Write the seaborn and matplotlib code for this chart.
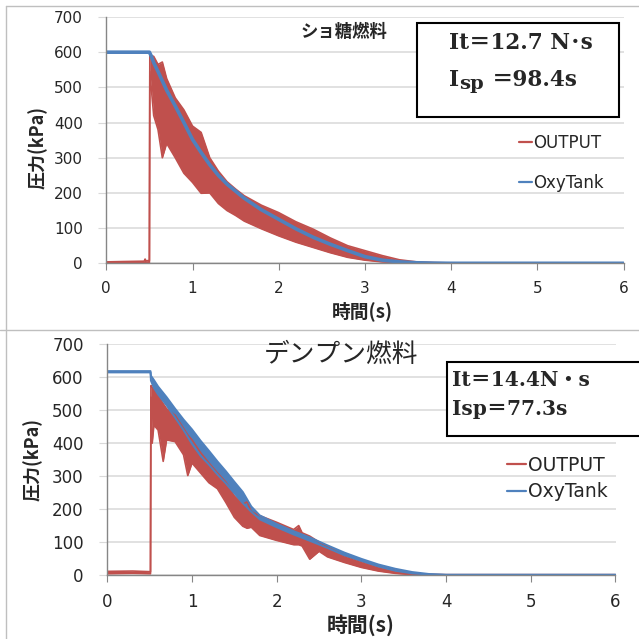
import numpy as np
import pandas as pd
import matplotlib.pyplot as plt
import matplotlib.patches as mpatches
from matplotlib.lines import Line2D
import seaborn as sns

# ---- top panel (sucrose fuel) ----
top_tank_t = [0.0, 0.50, 0.52, 0.55, 0.6, 0.7, 0.8, 0.9, 1.0, 1.1, 1.2, 1.3, 1.4, 1.5,
              1.6, 1.8, 2.0, 2.2, 2.4, 2.6, 2.8, 3.0, 3.2, 3.4, 3.6, 3.8, 4.0, 6.0]
top_tank_p = [600, 600, 590, 570, 545, 492, 447, 400, 352, 315, 280, 250, 225, 205,
              185, 152, 125, 98, 74, 54, 36, 19, 9, 4, 1.5, 0.5, 0, 0]

top_out_t = [0.0, 0.2, 0.44, 0.45, 0.46, 0.50, 0.505, 0.55, 0.6, 0.65, 0.7, 0.8, 0.9, 1.0,
             1.1, 1.2, 1.3, 1.4, 1.5, 1.6, 1.8, 2.0, 2.2, 2.4, 2.6, 2.8, 3.0, 3.2, 3.4,
             3.6, 3.8, 4.0, 6.0]
top_out_hi = [4, 5, 6, 12, 7, 8, 592, 588, 565, 572, 525, 470, 436, 390,
              372, 300, 262, 232, 211, 192, 165, 144, 118, 97, 72, 50, 36, 22, 10,
              4, 2, 1, 1]
top_out_lo = [1, 1, 2, 2, 2, 2, 545, 420, 380, 300, 341, 300, 256, 230,
              199, 200, 170, 150, 136, 120, 98, 78, 60, 45, 30, 17, 9, 4, 2,
              0, 0, 0, 0]

# ---- bottom panel (starch fuel) ----
bot_tank_t = [0.0, 0.51, 0.515, 0.55, 0.6, 0.7, 0.8, 0.9, 1.0, 1.1, 1.2, 1.3, 1.4, 1.5,
              1.6, 1.7, 1.8, 2.0, 2.2, 2.4, 2.6, 2.8, 3.0, 3.2, 3.4, 3.6, 3.8, 4.0, 6.0]
bot_tank_hi = [619, 619, 605, 592, 572, 540, 505, 472, 442, 408, 377, 345, 315, 283,
               252, 208, 181, 155, 133, 113, 90, 68, 49, 32, 19, 9, 3, 1, 1]
bot_tank_lo = [615, 615, 590, 568, 548, 515, 478, 440, 398, 362, 335, 305, 278, 248,
               218, 192, 169, 145, 123, 103, 82, 60, 43, 26, 13, 5, 1, 0, 0]

bot_out_t = [0.0, 0.3, 0.51, 0.515, 0.53, 0.55, 0.6, 0.66, 0.7, 0.8, 0.9, 0.95, 1.0,
             1.1, 1.2, 1.3, 1.4, 1.5, 1.6, 1.65, 1.7, 1.8, 2.0, 2.2, 2.26, 2.3, 2.39,
             2.5, 2.6, 2.8, 3.0, 3.2, 3.4, 3.6, 3.8, 4.0, 6.0]
bot_out_hi = [11, 12, 10, 575, 570, 565, 545, 520, 505, 485, 445, 425, 410,
              372, 340, 310, 282, 240, 215, 222, 192, 180, 160, 138, 150, 128, 118,
              100, 85, 58, 41, 25, 13, 5, 2, 1, 1]
bot_out_lo = [4, 5, 4, 540, 400, 455, 440, 345, 410, 405, 365, 302, 340,
              310, 280, 262, 220, 175, 148, 142, 145, 120, 105, 92, 92, 88, 48,
              72, 55, 38, 23, 12, 5, 1, 0, 0, 0]

x_ticks = [0, 1, 2, 3, 4, 5, 6]
y_ticks = [0, 100, 200, 300, 400, 500, 600, 700]

sns.set_style('white')
plt.rcParams['font.family'] = ['DejaVu Sans', 'Noto Sans CJK JP']

RED = '#C0504D'
BLUE = '#4F81BD'
GRID = '#D9D9D9'
AXIS = '#868686'
CJK = ['Noto Sans CJK JP', 'DejaVu Sans']
SERIF = ['DejaVu Serif', 'Noto Sans CJK JP']
W = 639.0


def fx(px):
    return px / W


def fy(py):
    return 1 - py / W


def setup_axes(ax, tick_fs):
    ax.set_xlim(0, 6)
    ax.set_ylim(0, 700)
    ax.set_xticks(x_ticks)
    ax.set_yticks(y_ticks)
    ax.yaxis.grid(True, color=GRID, lw=1.1)
    ax.xaxis.grid(False)
    ax.set_axisbelow(True)
    for s in ['top', 'right']:
        ax.spines[s].set_visible(False)
    for s in ['left', 'bottom']:
        ax.spines[s].set_color(AXIS)
        ax.spines[s].set_linewidth(1)
    ax.tick_params(axis='x', direction='out', length=5, color=AXIS, pad=8,
                   labelsize=tick_fs, labelcolor='#262626', bottom=True)
    ax.tick_params(axis='y', direction='out', length=6, color=GRID, pad=11,
                   labelsize=tick_fs, labelcolor='#262626', left=True)


def set_labels(ax, xfs, yfs, xpos, ypos):
    ax.set_xlabel('時間(s)', family=CJK, fontsize=xfs, fontweight='bold')
    ax.xaxis.set_label_coords(*xpos)
    ax.xaxis.label.set_va('center')
    ax.set_ylabel('圧力(kPa)', family=CJK, fontsize=yfs, fontweight='bold')
    ax.yaxis.set_label_coords(*ypos)
    ax.yaxis.label.set_va('center')


fig = plt.figure(figsize=(6.39, 6.39), dpi=100)
ax_top = fig.add_axes([fx(106.3), fy(263.3), (623.5 - 106.3) / W, (263.3 - 17) / W])
ax_bot = fig.add_axes([fx(107.3), fy(575), (615.5 - 107.3) / W, (575 - 344.4) / W])

# ---- top panel ----
top_out = pd.DataFrame({'t': top_out_t, 'hi': top_out_hi, 'lo': top_out_lo})
top_tank = pd.DataFrame({'t': top_tank_t, 'p': top_tank_p})

ax_top.fill_between(top_out['t'], top_out['lo'], top_out['hi'], color=RED, lw=0)
sns.lineplot(data=top_out, x='t', y='hi', ax=ax_top, color=RED, lw=1.2)
sns.lineplot(data=top_out, x='t', y='lo', ax=ax_top, color=RED, lw=1.2)
sns.lineplot(data=top_tank, x='t', y='p', ax=ax_top, color=BLUE, lw=2.6)
setup_axes(ax_top, 11)
set_labels(ax_top, 13.5, 13, (0.495, -0.194), (-0.132, 0.472))

h_out = Line2D([], [], color=RED, lw=1.6)
h_tank = Line2D([], [], color=BLUE, lw=1.6)
ax_top.legend([h_out, h_tank], ['OUTPUT', 'OxyTank'], loc='center left',
              bbox_to_anchor=(fx(519), fy(163)), bbox_transform=fig.transFigure,
              frameon=False, borderpad=0, borderaxespad=0, handlelength=0.75,
              handletextpad=0.1, labelspacing=1.3, fontsize=12,
              labelcolor='#262626')

# ---- bottom panel ----
bot_out = pd.DataFrame({'t': bot_out_t, 'hi': bot_out_hi, 'lo': bot_out_lo})
bot_tank = pd.DataFrame({'t': bot_tank_t, 'hi': bot_tank_hi, 'lo': bot_tank_lo})

ax_bot.fill_between(bot_out['t'], bot_out['lo'], bot_out['hi'], color=RED, lw=0)
sns.lineplot(data=bot_out, x='t', y='hi', ax=ax_bot, color=RED, lw=1.2)
sns.lineplot(data=bot_out, x='t', y='lo', ax=ax_bot, color=RED, lw=1.2)
ax_bot.fill_between(bot_tank['t'], bot_tank['lo'], bot_tank['hi'], color=BLUE, lw=0)
sns.lineplot(data=bot_tank, x='t', y='hi', ax=ax_bot, color=BLUE, lw=1.4)
sns.lineplot(data=bot_tank, x='t', y='lo', ax=ax_bot, color=BLUE, lw=1.4)
setup_axes(ax_bot, 12)
set_labels(ax_bot, 15, 13, (0.499, -0.217), (-0.146, 0.499))

ax_bot.legend([h_out, h_tank], ['OUTPUT', 'OxyTank'], loc='center left',
              bbox_to_anchor=(fx(507), fy(478.5)), bbox_transform=fig.transFigure,
              frameon=False, borderpad=0, borderaxespad=0, handlelength=1.0,
              handletextpad=0.1, labelspacing=0.4, fontsize=13.5,
              labelcolor='#262626')

# ---- titles ----
fig.text(fx(344), fy(32), 'ショ糖燃料', family=CJK, fontsize=12.5, fontweight='bold',
         ha='center', va='center')
fig.text(fx(341), fy(355), 'デンプン燃料', family=CJK, fontsize=18.5,
         ha='center', va='center')

# ---- result boxes ----
fig.add_artist(mpatches.Rectangle((fx(416.5), fy(117)), (619 - 416.5) / W, 94 / W,
                                  transform=fig.transFigure, fc='white', ec='black',
                                  lw=1.5, zorder=2))
fig.text(fx(449), fy(43), 'It＝12.7 N･s', family=SERIF, fontsize=15.5,
         fontweight='bold', va='center', zorder=3)
fig.text(fx(449), fy(80), 'I', family=SERIF, fontsize=15.5, fontweight='bold',
         va='center', zorder=3)
fig.text(fx(459), fy(84), 'sp', family=SERIF, fontsize=14, fontweight='bold',
         va='center', zorder=3)
fig.text(fx(492), fy(80), '＝98.4s', family=SERIF, fontsize=15.5, fontweight='bold',
         va='center', zorder=3)

fig.add_artist(mpatches.Rectangle((fx(446.5), fy(436)), (660 - 446.5) / W, 74 / W,
                                  transform=fig.transFigure, fc='white', ec='black',
                                  lw=1.5, zorder=2, clip_on=False))
fig.text(fx(452), fy(380), 'It＝14.4N・s', family=SERIF, fontsize=14.5,
         fontweight='bold', va='center', zorder=3)
fig.text(fx(452), fy(409), 'Isp＝77.3s', family=SERIF, fontsize=14.5,
         fontweight='bold', va='center', zorder=3)

# ---- chart borders ----
BORDER = '#BFBFBF'
fig.add_artist(Line2D([fx(6), fx(6)], [fy(6), 0], transform=fig.transFigure,
                      color=BORDER, lw=1))
fig.add_artist(Line2D([fx(6), 1], [fy(6), fy(6)], transform=fig.transFigure,
                      color=BORDER, lw=1))
fig.add_artist(Line2D([0, 1], [fy(330), fy(330)], transform=fig.transFigure,
                      color=BORDER, lw=1))

fig.savefig('out.png', dpi=100, facecolor='white')
